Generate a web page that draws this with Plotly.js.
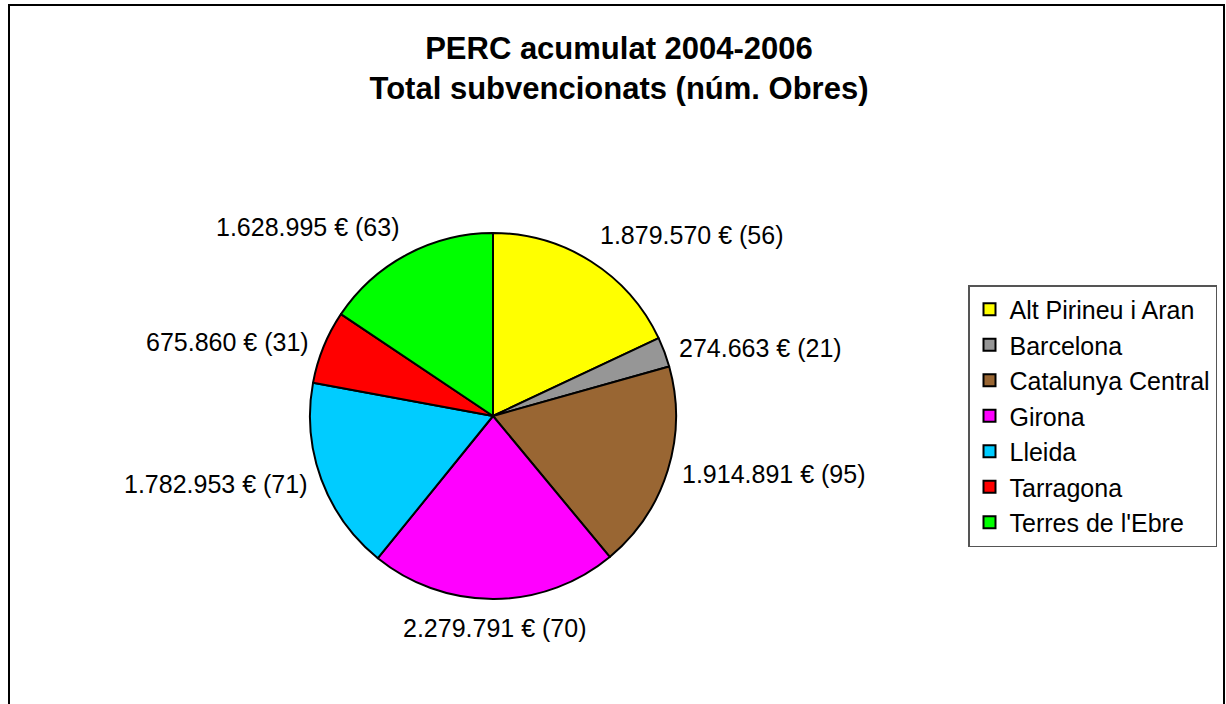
<!DOCTYPE html>
<html>
<head>
<meta charset="utf-8">
<script src="https://cdn.plot.ly/plotly-3.0.1.min.js"></script>
<style>html,body{margin:0;padding:0;background:#fff;}#chart{width:1226px;height:704px;}</style>
</head>
<body>
<div id="chart"></div>
<script>
var categories = ["Alt Pirineu i Aran", "Barcelona", "Catalunya Central", "Girona", "Lleida", "Tarragona", "Terres de l'Ebre"];
var amounts = [1879570, 274663, 1914891, 2279791, 1782953, 675860, 1628995];
var works = [56, 21, 95, 70, 71, 31, 63];
var colors = ["#FFFF00", "#969696", "#996633", "#FF00FF", "#00CCFF", "#FF0000", "#00FF00"];

function fmt(n) { return String(n).replace(/\B(?=(\d{3})+(?!\d))/g, '.'); }
var labelsText = amounts.map(function (v, i) { return fmt(v) + ' € (' + works[i] + ')'; });

var W = 1226, H = 704;
var M = { l: 0, r: 0, t: 118, b: 0 };
var PW = W - M.l - M.r, PH = H - M.t - M.b;
function px2x(px) { return (px - M.l) / PW; }
function py2y(py) { return (H - M.b - py) / PH; }

var cx = 493, cy = 416, r = 183, labelR = 196;
var FONT = 'Liberation Sans, Arial, sans-serif';

// Data labels placed outside each slice, at its mid angle (derived from the values)
var total = amounts.reduce(function (a, b) { return a + b; }, 0);
var annotations = [];
var cum = 0;
amounts.forEach(function (v, i) {
  var mid = (cum + v / 2) / total * 2 * Math.PI;
  cum += v;
  var s = Math.sin(mid), c = Math.cos(mid);
  var px = cx + s * labelR, py = cy - c * labelR;
  annotations.push({
    xref: 'paper', yref: 'paper',
    x: px2x(px), y: py2y(py),
    text: labelsText[i], showarrow: false,
    xanchor: s > 0.2 ? 'left' : (s < -0.2 ? 'right' : 'center'),
    yanchor: c > 0.5 ? 'bottom' : (c < -0.5 ? 'top' : 'middle'),
    font: { family: FONT, size: 25, color: '#000000' }
  });
});

var trace = {
  type: 'pie',
  labels: categories,
  values: amounts,
  textinfo: 'none',
  sort: false,
  direction: 'clockwise',
  rotation: 0,
  hoverinfo: 'none',
  marker: { colors: colors, line: { color: '#000000', width: 2 } },
  domain: { x: [px2x(cx - r), px2x(cx + r)], y: [py2y(cy + r), py2y(cy - r)] }
};

var layout = {
  width: W, height: H,
  margin: M,
  paper_bgcolor: '#ffffff',
  plot_bgcolor: '#ffffff',
  font: { family: FONT, color: '#000000' },
  title: {
    text: '<b>PERC acumulat 2004-2006<br>Total subvencionats (núm. Obres)</b>',
    font: { family: FONT, size: 31, color: '#000000' },
    x: 619 / W, xanchor: 'center'
  },
  showlegend: true,
  legend: {
    x: px2x(968), xanchor: 'left',
    y: py2y(285), yanchor: 'top',
    bgcolor: '#ffffff',
    bordercolor: '#555555', borderwidth: 1.5,
    font: { family: FONT, size: 25, color: '#000000' },
    traceorder: 'normal'
  },
  annotations: annotations,
  shapes: [{
    type: 'rect', xref: 'paper', yref: 'paper',
    x0: px2x(9), x1: px2x(1224), y0: py2y(740), y1: py2y(5),
    line: { color: '#000000', width: 2 }, fillcolor: 'rgba(0,0,0,0)', layer: 'below'
  }]
};

Plotly.newPlot('chart', [trace], layout, { displayModeBar: false, staticPlot: true });
</script>
</body>
</html>
